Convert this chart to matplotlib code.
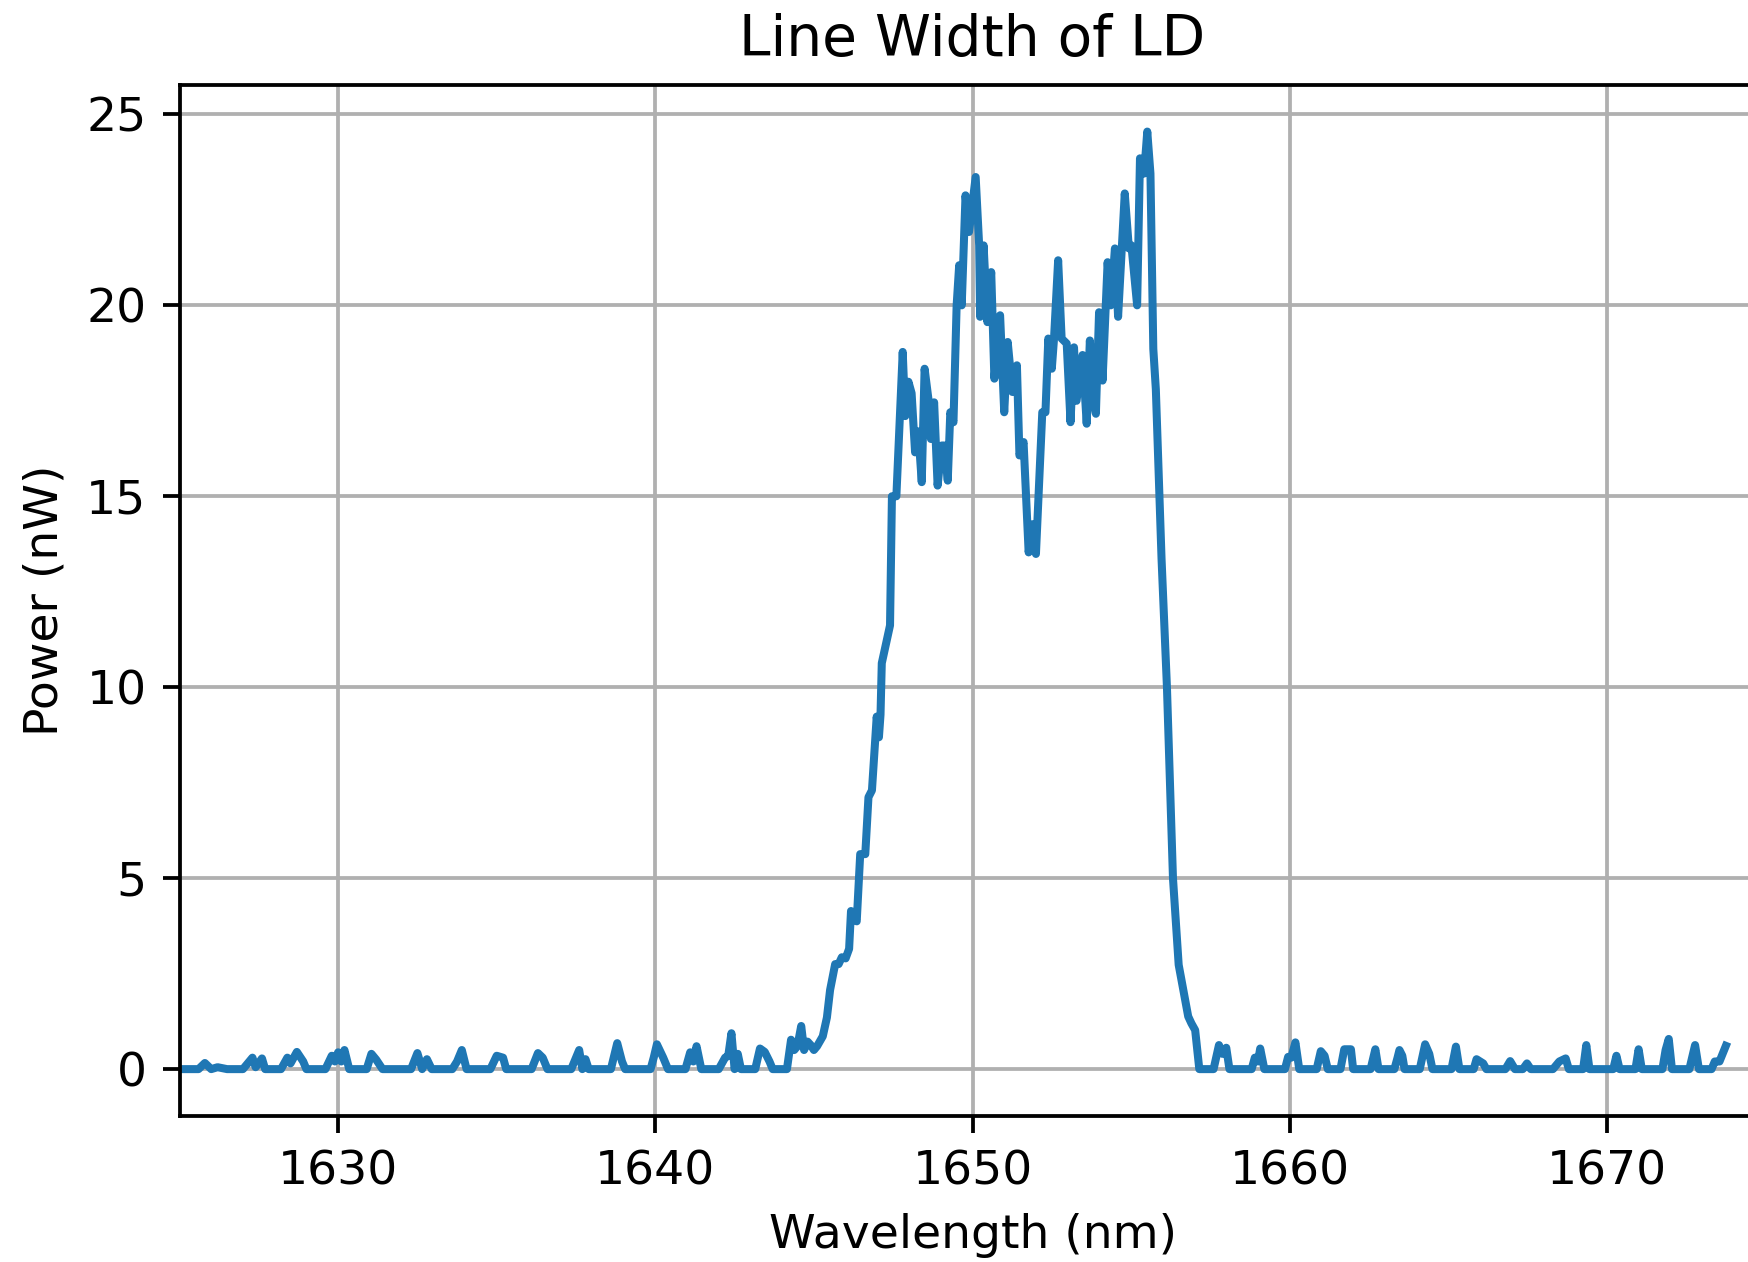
import matplotlib
matplotlib.use("Agg")
import matplotlib.pyplot as plt
import numpy as np

# wavelength (nm) and power (nW)
wavelength = [
    1625.0, 1625.6, 1625.8, 1626.0, 1626.2, 1626.5, 1627.0, 1627.1, 1627.3, 1627.4,
    1627.6, 1627.7, 1628.2, 1628.4, 1628.5, 1628.7, 1628.9, 1629.0, 1629.6, 1629.8,
    1629.9, 1630.0, 1630.1, 1630.2, 1630.35, 1630.9, 1631.05, 1631.2, 1631.4, 1632.3,
    1632.5, 1632.65, 1632.8, 1632.95, 1633.6, 1633.75, 1633.9, 1634.05, 1634.8, 1635.0,
    1635.2, 1635.3, 1636.1, 1636.3, 1636.45, 1636.6, 1637.35, 1637.45, 1637.6, 1637.7,
    1637.8, 1637.9, 1638.6, 1638.8, 1638.95, 1639.05, 1639.85, 1639.95, 1640.05, 1640.25,
    1640.4, 1640.95, 1641.1, 1641.2, 1641.3, 1641.45, 1642.0, 1642.2, 1642.3, 1642.4,
    1642.5, 1642.6, 1642.7, 1643.15, 1643.3, 1643.45, 1643.6, 1643.7, 1644.15,
    1644.28, 1644.38, 1644.48, 1644.6, 1644.69, 1644.8, 1644.9, 1645.0, 1645.1, 1645.28,
    1645.41, 1645.51, 1645.67, 1645.78, 1645.88, 1646.0, 1646.11, 1646.17, 1646.35, 1646.46,
    1646.62, 1646.72, 1646.83, 1646.88, 1646.98, 1647.05, 1647.1, 1647.14, 1647.28, 1647.4,
    1647.46, 1647.6, 1647.8, 1647.88, 1647.98, 1648.08, 1648.19, 1648.29, 1648.4, 1648.49,
    1648.61, 1648.69, 1648.79, 1648.9, 1649.03, 1649.11, 1649.22, 1649.3, 1649.4, 1649.5,
    1649.58, 1649.66, 1649.78, 1649.89, 1650.1, 1650.21, 1650.24, 1650.35, 1650.47, 1650.59,
    1650.69, 1650.87, 1651.0, 1651.11, 1651.26, 1651.4, 1651.48, 1651.61, 1651.77, 1651.9,
    1652.0, 1652.2, 1652.3, 1652.39, 1652.5, 1652.57, 1652.7, 1652.81, 1652.97, 1653.09,
    1653.2, 1653.28, 1653.47, 1653.6, 1653.7, 1653.8, 1653.89, 1653.99, 1654.1, 1654.26,
    1654.36, 1654.49, 1654.59, 1654.8, 1654.93, 1655.01, 1655.19, 1655.28, 1655.41, 1655.51,
    1655.61, 1655.7, 1655.78, 1655.96, 1656.13, 1656.32, 1656.5, 1656.8, 1656.9, 1657.02,
    1657.15, 1657.6, 1657.77, 1657.88, 1658.0, 1658.1, 1658.8, 1658.9, 1659.0, 1659.07,
    1659.2, 1659.85, 1659.95, 1660.05, 1660.18, 1660.3, 1660.85, 1660.98, 1661.1, 1661.2,
    1661.6, 1661.72, 1661.93, 1662.0, 1662.55, 1662.7, 1662.8, 1663.3, 1663.4, 1663.46,
    1663.55, 1663.62, 1664.1, 1664.27, 1664.4, 1664.5, 1665.1, 1665.24, 1665.35, 1665.8,
    1665.89, 1666.1, 1666.2, 1666.8, 1666.95, 1667.1, 1667.35, 1667.48, 1667.6, 1668.3,
    1668.5, 1668.7, 1668.8, 1669.25, 1669.35, 1669.45, 1670.2, 1670.3, 1670.4, 1670.9,
    1671.0, 1671.1, 1671.75, 1671.85, 1671.95, 1672.05, 1672.6, 1672.78, 1672.9, 1673.3,
    1673.4, 1673.55, 1673.75,
]
power = [
    0.0, 0.0, 0.16, 0.0, 0.05, 0.0, 0.0, 0.1, 0.3, 0.05,
    0.28, 0.0, 0.0, 0.3, 0.15, 0.45, 0.2, 0.0, 0.0, 0.35,
    0.2, 0.44, 0.2, 0.5, 0.0, 0.0, 0.4, 0.25, 0.0, 0.0,
    0.42, 0.0, 0.26, 0.0, 0.0, 0.2, 0.5, 0.0, 0.0, 0.35,
    0.3, 0.0, 0.0, 0.42, 0.3, 0.0, 0.0, 0.2, 0.5, 0.0,
    0.26, 0.0, 0.0, 0.68, 0.2, 0.0, 0.0, 0.3, 0.65, 0.3,
    0.0, 0.0, 0.44, 0.2, 0.6, 0.0, 0.0, 0.3, 0.35, 0.94,
    0.0, 0.4, 0.0, 0.0, 0.54, 0.45, 0.2, 0.0, 0.0,
    0.77, 0.5, 0.6, 1.13, 0.5, 0.72, 0.63, 0.5, 0.6, 0.86,
    1.35, 2.07, 2.75, 2.75, 2.93, 2.9, 3.15, 4.14, 3.87, 5.63,
    5.63, 7.12, 7.3, 7.93, 9.23, 8.69, 9.28, 10.63, 11.17, 11.62,
    15.0, 15.0, 18.78, 17.1, 18.0, 17.7, 16.15, 16.7, 15.37, 18.34,
    17.55, 16.5, 17.46, 15.28, 16.33, 16.33, 15.41, 17.2, 16.94, 20.0,
    21.05, 20.0, 22.88, 21.92, 23.36, 21.57, 19.7, 21.57, 19.56, 20.87,
    18.08, 19.74, 17.2, 19.04, 17.73, 18.43, 16.07, 16.42, 13.53, 14.27,
    13.49, 17.2, 17.2, 19.13, 18.34, 19.13, 21.18, 19.13, 19.0, 16.94,
    18.9, 17.5, 18.7, 16.9, 19.08, 17.55, 17.16, 19.82, 18.03, 21.13,
    20.0, 21.49, 19.7, 22.93, 21.49, 21.57, 20.0, 23.85, 23.45, 24.55,
    23.45, 18.86, 17.8, 13.36, 10.0, 5.0, 2.73, 1.38, 1.2, 1.02,
    0.0, 0.0, 0.63, 0.4, 0.56, 0.0, 0.0, 0.3, 0.2, 0.54,
    0.0, 0.0, 0.32, 0.3, 0.7, 0.0, 0.0, 0.47, 0.35, 0.0,
    0.0, 0.52, 0.52, 0.0, 0.0, 0.52, 0.0, 0.0, 0.3, 0.5,
    0.35, 0.0, 0.0, 0.65, 0.4, 0.0, 0.0, 0.59, 0.0, 0.0,
    0.26, 0.15, 0.0, 0.0, 0.21, 0.0, 0.0, 0.15, 0.0, 0.0,
    0.2, 0.28, 0.0, 0.0, 0.63, 0.0, 0.0, 0.35, 0.0, 0.0,
    0.52, 0.0, 0.0, 0.5, 0.79, 0.0, 0.0, 0.63, 0.0, 0.0,
    0.2, 0.2, 0.61,
]

dpi = 340
fig = plt.figure(figsize=(1748 / dpi, 1262 / dpi), dpi=dpi)
# axes runs past the right edge, as in the cropped original
ax = fig.add_axes([179.5 / 1748, 146 / 1262, 1586 / 1748, 1031.3 / 1262])

ax.plot(wavelength, power, color='#1f77b4', linewidth=1.7)
ax.set_xlim(1625, 1675)
ax.set_xticks([1630, 1640, 1650, 1660, 1670])
ax.set_yticks([0, 5, 10, 15, 20, 25])
ax.grid(True)
ax.set_title('Line Width of LD')
ax.set_xlabel('Wavelength (nm)')
ax.set_ylabel('Power (nW)')

fig.savefig('out.png', dpi=dpi)
